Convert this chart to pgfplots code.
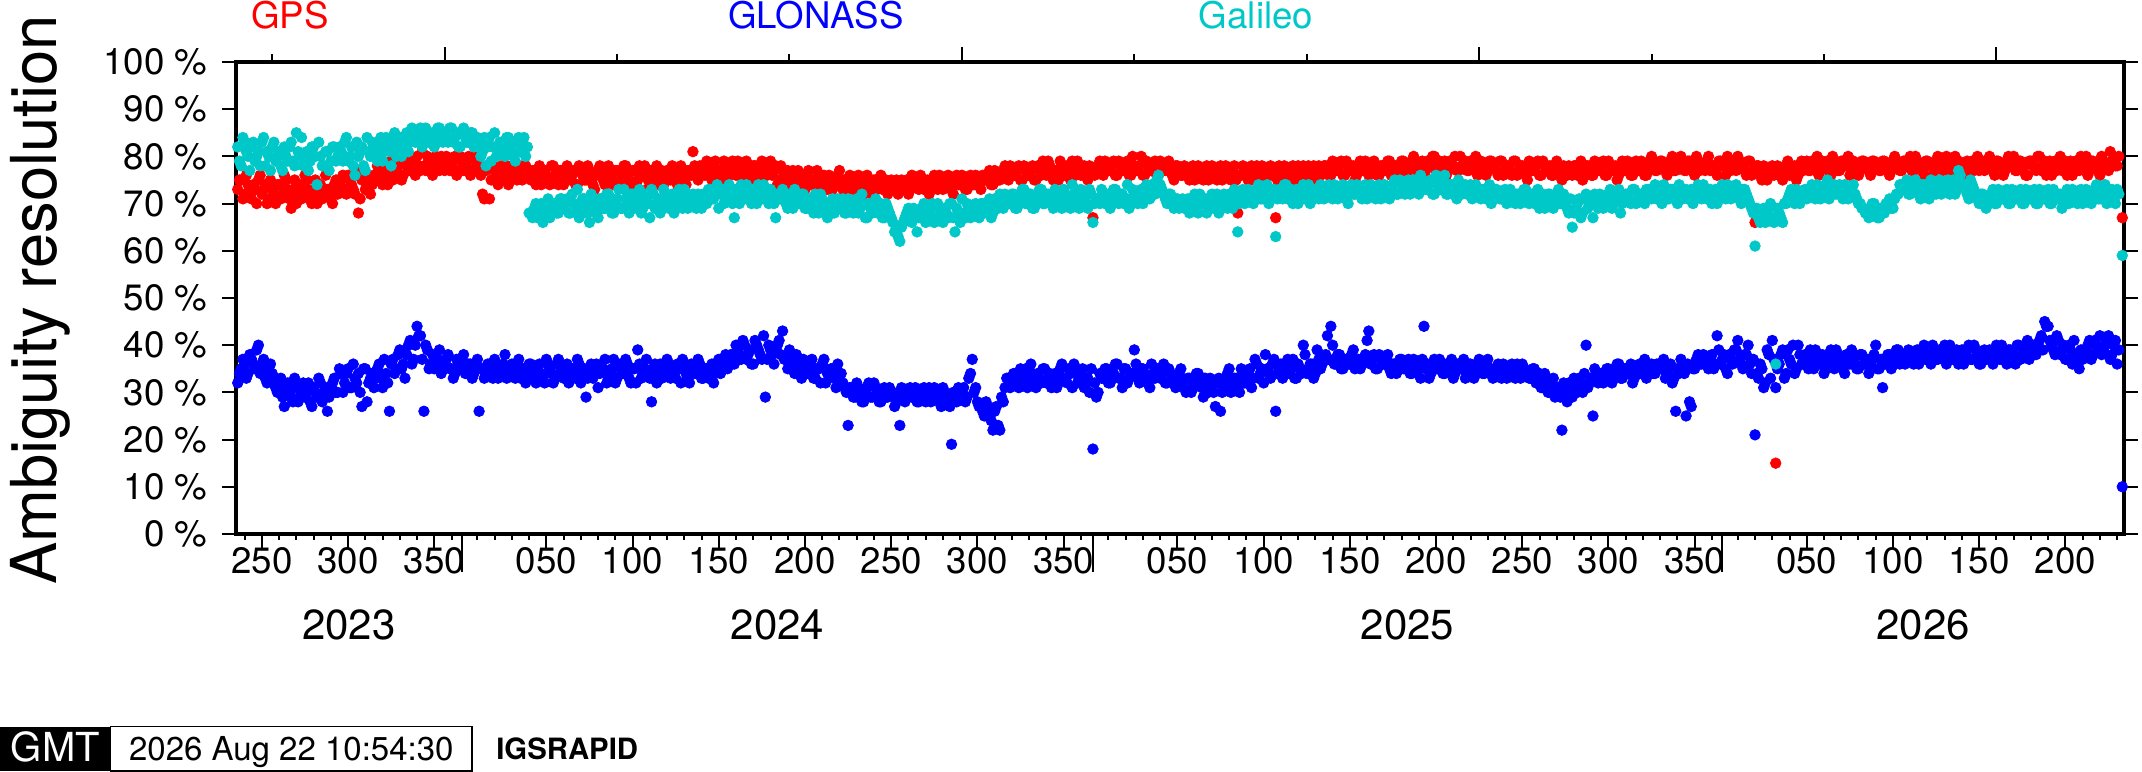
\documentclass[border=0pt]{standalone}
\usepackage{pgfplots}
\usepackage{pgfplotstable}
\pgfplotsset{compat=1.18}
\usepackage{fontspec}
\setmainfont{TeX Gyre Heros}
\definecolor{gpsred}{RGB}{255,0,0}
\definecolor{globlue}{RGB}{0,0,255}
\definecolor{galcyan}{RGB}{0,200,200}
\pgfplotstableread[row sep=\\]{t g r e\\
235 73 32 82\\ 237 75 35 78\\ 239 72 36 83\\ 241 74 34 80\\ 243 71 37 82\\
245 73 35 79\\ 247 75 40 81\\ 249 72 36 83\\ 251 74 33 78\\ 253 71 35 80\\
255 73 34 82\\ 257 70 31 79\\ 259 74 32 81\\ 261 72 29 77\\ 263 75 31 80\\
265 71 30 82\\ 267 73 28 79\\ 269 70 31 85\\ 271 74 29 80\\ 273 72 32 78\\
275 75 30 81\\ 277 71 28 79\\ 279 73 31 82\\ 281 70 29 74\\ 283 74 32 80\\
285 72 30 78\\ 287 73 26 81\\ 289 71 31 79\\ 291 74 33 82\\ 293 72 30 80\\
295 75 34 81\\ 297 73 32 83\\ 299 76 35 79\\ 301 74 31 82\\ 303 72 33 76\\
305 68 34 80\\ 307 75 27 82\\ 309 73 35 77\\ 311 76 32 81\\ 313 74 34 83\\
315 75 33 80\\ 317 77 36 82\\ 319 74 31 79\\ 321 76 34 84\\ 323 78 26 81\\
325 75 37 83\\ 327 77 35 80\\ 329 79 39 84\\ 331 76 36 82\\ 333 78 38 85\\
335 77 41 83\\ 337 79 37 85\\ 339 80 44 84\\ 341 77 42 86\\ 343 78 26 83\\
345 80 39 85\\ 347 77 36 84\\ 349 79 35 82\\ 351 78 37 86\\ 353 80 34 84\\
355 77 36 85\\ 357 79 38 83\\ 359 78 35 86\\ 361 80 34 84\\ 363 77 36 82\\
365 79 37 85\\ 367 78 34 84\\ 369 80 36 83\\ 371 77 33 85\\ 373 79 35 84\\
375 78 26 83\\ 377 72 35 81\\ 379 77 34 78\\ 381 71 36 84\\ 383 78 33 82\\
385 76 35 80\\ 387 77 34 83\\ 389 75 36 81\\ 391 78 33 84\\ 393 76 35 82\\
395 77 34 80\\ 397 75 36 83\\ 399 78 33 81\\ 401 76 35 84\\ 403 77 34 82\\
405 75 36 68\\ 407 77 33 69\\ 409 76 35 67\\ 411 74 34 70\\ 413 77 32 68\\
415 75 36 71\\ 417 78 34 69\\ 419 76 33 70\\ 421 74 37 68\\ 423 77 35 71\\
425 75 34 70\\ 427 77 32 68\\ 429 76 35 72\\ 431 74 33 69\\ 433 78 36 67\\
435 76 34 71\\ 437 75 29 69\\ 439 77 35 66\\ 441 74 33 70\\ 443 76 36 68\\
445 78 34 71\\ 447 75 35 69\\ 449 77 32 72\\ 451 76 34 70\\ 453 74 37 68\\
455 77 33 71\\ 457 75 35 69\\ 459 78 34 73\\ 461 76 36 70\\ 463 74 32 72\\
465 77 35 69\\ 467 75 39 71\\ 469 76 33 68\\ 471 78 35 72\\ 473 75 34 70\\
475 77 28 73\\ 477 76 36 69\\ 479 74 34 71\\ 481 77 33 70\\ 483 75 35 72\\
485 76 36 69\\ 487 78 34 72\\ 489 75 33 70\\ 491 77 35 73\\ 493 76 37 69\\
495 74 34 71\\ 497 77 32 70\\ 499 81 35 72\\ 501 76 34 69\\ 503 78 36 71\\
505 77 33 72\\ 507 79 35 70\\ 509 76 34 73\\ 511 78 32 71\\ 513 75 36 74\\
515 77 34 72\\ 517 79 37 70\\ 519 76 35 73\\ 521 78 38 71\\ 523 77 36 67\\
525 79 39 72\\ 527 76 37 74\\ 529 78 40 71\\ 531 77 38 73\\ 533 75 36 70\\
535 78 41 72\\ 537 76 39 74\\ 539 79 37 71\\ 541 77 29 73\\ 543 78 40 70\\
545 76 38 72\\ 547 78 39 67\\ 549 75 41 71\\ 551 77 43 73\\ 553 76 37 70\\
555 74 39 72\\ 557 77 36 69\\ 559 75 38 71\\ 561 76 35 70\\ 563 74 37 72\\
565 76 34 69\\ 567 74 36 71\\ 569 75 33 68\\ 571 77 35 70\\ 573 74 32 72\\
575 76 37 69\\ 577 73 34 67\\ 579 75 35 70\\ 581 74 33 68\\ 583 76 36 71\\
585 74 34 69\\ 587 75 31 68\\ 589 73 23 71\\ 591 75 30 69\\ 593 74 29 70\\
595 76 31 68\\ 597 73 28 72\\ 599 75 30 67\\ 601 74 32 70\\ 603 72 29 68\\
605 75 31 71\\ 607 74 28 69\\ 609 73 30 67\\ 611 75 29 70\\ 613 74 31 68\\
615 73 30 66\\ 617 75 28 65\\ 619 74 23 62\\ 621 73 30 66\\ 623 75 29 68\\
625 73 31 67\\ 627 75 30 69\\ 629 74 28 64\\ 631 76 29 68\\ 633 73 31 70\\
635 75 30 67\\ 637 74 28 69\\ 639 76 31 66\\ 641 73 29 70\\ 643 75 27 68\\
645 74 30 69\\ 647 76 28 67\\ 649 73 19 70\\ 651 75 29 64\\ 653 74 31 68\\
655 76 30 71\\ 657 73 28 67\\ 659 75 33 69\\ 661 74 37 68\\ 663 76 31 70\\
665 74 27 67\\ 667 76 26 70\\ 669 75 28 69\\ 671 77 25 71\\ 673 74 22 68\\
675 76 27 70\\ 677 75 22 72\\ 679 77 28 69\\ 681 76 33 71\\ 683 78 31 70\\
685 76 34 72\\ 687 77 32 69\\ 689 75 35 71\\ 691 78 33 73\\ 693 76 31 70\\
695 77 36 72\\ 697 75 33 69\\ 699 78 34 71\\ 701 76 32 73\\ 703 77 35 70\\
705 79 33 72\\ 707 76 31 70\\ 709 77 34 73\\ 711 75 32 71\\ 713 78 36 69\\
715 76 33 72\\ 717 77 35 70\\ 719 79 31 74\\ 721 76 34 71\\ 723 78 33 69\\
725 77 35 72\\ 727 76 32 70\\ 729 78 30 73\\ 731 67 18 66\\ 733 77 29 71\\
735 79 34 70\\ 737 76 33 72\\ 739 78 35 71\\ 741 77 32 69\\ 743 79 34 73\\
745 76 36 71\\ 747 78 33 72\\ 749 77 35 70\\ 751 79 32 74\\ 753 76 34 71\\
755 78 39 72\\ 757 77 33 70\\ 759 80 35 73\\ 761 76 34 71\\ 763 78 32 72\\
765 77 36 74\\ 767 79 33 72\\ 769 76 35 76\\ 771 78 34 73\\ 773 77 32 71\\
775 79 35 72\\ 777 76 33 70\\ 779 78 31 71\\ 781 77 34 69\\ 783 76 32 71\\
785 77 30 70\\ 787 75 33 68\\ 789 78 31 71\\ 791 76 34 69\\ 793 77 32 72\\
795 75 29 70\\ 797 78 31 68\\ 799 76 33 71\\ 801 77 30 69\\ 803 75 32 72\\
805 78 26 70\\ 807 76 31 72\\ 809 77 34 69\\ 811 75 30 71\\ 813 78 33 73\\
815 68 31 64\\ 817 76 35 72\\ 819 77 32 70\\ 821 75 34 73\\ 823 78 31 71\\
825 77 37 72\\ 827 76 33 74\\ 829 78 35 71\\ 831 75 38 73\\ 833 77 34 70\\
835 76 36 72\\ 837 67 26 63\\ 839 78 35 73\\ 841 76 33 71\\ 843 77 36 74\\
845 75 34 72\\ 847 78 37 70\\ 849 77 33 73\\ 851 76 35 71\\ 853 78 40 74\\
855 77 34 72\\ 857 75 36 70\\ 859 78 33 73\\ 861 77 39 72\\ 863 76 35 74\\
865 78 37 71\\ 867 77 42 73\\ 869 76 44 72\\ 871 78 36 74\\ 873 77 38 71\\
875 79 35 73\\ 877 76 37 72\\ 879 78 36 70\\ 881 77 38 74\\ 883 75 35 72\\
885 78 37 73\\ 887 77 36 71\\ 889 79 38 74\\ 891 76 43 72\\ 893 78 37 73\\
895 77 35 71\\ 897 76 38 74\\ 899 78 36 72\\ 901 77 37 73\\ 903 79 35 71\\
905 77 36 74\\ 907 78 34 72\\ 909 76 37 75\\ 911 79 35 73\\ 913 77 36 74\\
915 78 34 72\\ 917 80 37 75\\ 919 77 35 73\\ 921 78 33 76\\ 923 76 44 74\\
925 79 36 73\\ 927 78 34 75\\ 929 80 37 72\\ 931 77 35 74\\ 933 78 36 73\\
935 79 34 76\\ 937 77 35 72\\ 939 78 37 74\\ 941 80 34 73\\ 943 77 36 75\\
945 78 35 72\\ 947 79 33 74\\ 949 77 36 73\\ 951 78 34 71\\ 953 80 35 74\\
955 77 37 72\\ 957 78 34 73\\ 959 76 36 71\\ 961 79 35 74\\ 963 78 33 72\\
965 77 35 73\\ 967 79 34 71\\ 969 76 36 72\\ 971 78 33 70\\ 973 77 35 73\\
975 79 34 71\\ 977 76 36 72\\ 979 78 33 70\\ 981 77 35 73\\ 983 75 34 71\\
985 78 33 72\\ 987 77 35 70\\ 989 79 32 73\\ 991 76 31 71\\ 993 78 34 69\\
995 77 30 72\\ 997 76 32 70\\ 999 78 29 71\\ 1001 77 31 73\\ 1003 75 22 70\\
1005 77 30 71\\ 1007 78 32 68\\ 1009 76 29 65\\ 1011 78 31 69\\ 1013 77 33 71\\
1015 75 30 68\\ 1017 78 40 72\\ 1019 77 32 70\\ 1021 76 25 67\\ 1023 78 33 71\\
1025 77 34 72\\ 1027 79 32 69\\ 1029 76 35 71\\ 1031 78 33 73\\ 1033 77 34 70\\
1035 75 36 72\\ 1037 78 33 68\\ 1039 77 35 71\\ 1041 79 34 72\\ 1043 76 36 70\\
1045 78 33 73\\ 1047 77 35 71\\ 1049 79 34 72\\ 1051 76 37 70\\ 1053 78 35 73\\
1055 80 36 71\\ 1057 77 34 74\\ 1059 78 36 72\\ 1061 79 35 70\\ 1063 77 33 73\\
1065 78 35 71\\ 1067 80 32 73\\ 1069 77 26 72\\ 1071 79 34 74\\ 1073 78 36 71\\
1075 77 25 73\\ 1077 79 28 72\\ 1079 78 35 70\\ 1081 80 37 73\\ 1083 77 36 72\\
1085 78 38 74\\ 1087 79 36 71\\ 1089 77 37 73\\ 1091 78 35 72\\ 1093 76 42 70\\
1095 79 36 73\\ 1097 78 38 72\\ 1099 80 34 74\\ 1101 77 37 71\\ 1103 79 39 73\\
1105 80 41 72\\ 1107 78 36 70\\ 1109 77 38 73\\ 1111 79 40 71\\ 1113 76 34 69\\
1115 66 21 61\\ 1117 78 33 67\\ 1119 75 35 68\\ 1121 77 32 66\\ 1123 76 38 69\\
1125 78 41 67\\ 1127 15 31 36\\ 1129 77 36 68\\ 1131 75 39 66\\ 1133 78 34 70\\
1135 76 37 72\\ 1137 77 40 71\\ 1139 75 35 73\\ 1141 78 38 70\\ 1143 77 36 72\\
1145 79 37 71\\ 1147 77 39 73\\ 1149 78 35 72\\ 1151 80 38 74\\ 1153 77 36 71\\
1155 78 34 73\\ 1157 79 37 75\\ 1159 76 39 72\\ 1161 78 35 74\\ 1163 77 38 73\\
1165 79 36 72\\ 1167 78 34 74\\ 1169 80 37 71\\ 1171 77 39 73\\ 1173 78 36 72\\
1175 76 35 70\\ 1177 79 38 69\\ 1179 78 36 68\\ 1181 77 34 67\\ 1183 79 37 70\\
1185 78 40 69\\ 1187 77 35 67\\ 1189 79 31 68\\ 1191 78 36 70\\ 1193 76 38 71\\
1195 79 37 69\\ 1197 78 39 72\\ 1199 77 36 74\\ 1201 79 38 73\\ 1203 78 37 75\\
1205 80 38 72\\ 1207 77 36 74\\ 1209 79 39 73\\ 1211 78 37 71\\ 1213 76 40 74\\
1215 79 38 72\\ 1217 78 36 75\\ 1219 77 39 73\\ 1221 80 37 74\\ 1223 78 38 72\\
1225 79 40 73\\ 1227 77 37 75\\ 1229 78 39 74\\ 1231 80 38 72\\ 1233 79 36 77\\
1235 77 39 74\\ 1237 78 38 73\\ 1239 76 40 71\\ 1241 79 37 74\\ 1243 78 39 72\\
1245 77 36 70\\ 1247 79 38 72\\ 1249 78 37 69\\ 1251 80 39 71\\ 1253 77 36 73\\
1255 79 40 70\\ 1257 78 37 72\\ 1259 76 38 71\\ 1261 79 36 73\\ 1263 78 39 70\\
1265 80 38 72\\ 1267 77 40 71\\ 1269 79 37 73\\ 1271 78 39 70\\ 1273 76 41 72\\
1275 79 38 71\\ 1277 78 40 73\\ 1279 80 39 70\\ 1281 77 42 72\\ 1283 79 45 71\\
1285 78 44 73\\ 1287 76 40 70\\ 1289 79 38 72\\ 1291 78 41 71\\ 1293 77 39 69\\
1295 79 37 72\\ 1297 78 40 70\\ 1299 76 36 73\\ 1301 79 38 71\\ 1303 77 35 72\\
1305 78 37 70\\ 1307 80 39 73\\ 1309 77 41 71\\ 1311 79 38 72\\ 1313 78 40 74\\
1315 76 42 71\\ 1317 79 39 73\\ 1319 78 41 70\\ 1321 81 37 72\\ 1323 79 40 71\\
1325 78 36 73\\ 1328 67 10 59\\
}\dataA
\pgfplotstableread[row sep=\\]{t g r e\\
236 75 34 79\\ 238 71 37 84\\ 240 76 33 81\\ 242 72 38 77\\ 244 74 36 83\\
246 70 39 80\\ 248 76 34 78\\ 250 73 37 84\\ 252 70 32 81\\ 254 75 36 77\\
256 72 33 83\\ 258 74 30 80\\ 260 71 33 78\\ 262 76 27 82\\ 264 73 32 79\\
266 69 29 83\\ 268 75 33 78\\ 270 72 28 81\\ 272 71 31 84\\ 274 76 29 79\\
276 73 32 77\\ 278 70 27 82\\ 280 75 30 80\\ 282 72 33 83\\ 284 71 28 78\\
286 76 31 81\\ 288 73 29 77\\ 290 70 32 82\\ 292 75 30 79\\ 294 73 35 82\\
296 76 30 79\\ 298 72 34 84\\ 300 75 31 80\\ 302 73 36 78\\ 304 77 32 83\\
306 71 30 81\\ 308 76 35 78\\ 310 74 28 84\\ 312 72 33 80\\ 314 76 31 82\\
316 78 35 79\\ 318 75 33 84\\ 320 77 37 81\\ 322 74 32 83\\ 324 79 36 78\\
326 76 34 85\\ 328 78 38 82\\ 330 75 35 80\\ 332 80 33 84\\ 334 77 40 81\\
336 79 36 86\\ 338 76 40 83\\ 340 78 42 85\\ 342 81 37 82\\ 344 77 40 86\\
346 79 35 83\\ 348 76 38 85\\ 350 80 36 84\\ 352 77 39 86\\ 354 79 35 83\\
356 80 37 84\\ 358 77 35 86\\ 360 79 33 83\\ 362 76 37 85\\ 364 80 35 82\\
366 77 38 86\\ 368 79 34 83\\ 370 76 36 85\\ 372 80 34 82\\ 374 78 37 84\\
376 76 35 80\\ 378 71 33 84\\ 380 78 36 82\\ 382 75 34 79\\ 384 77 37 85\\
386 74 33 81\\ 388 78 35 83\\ 390 76 38 80\\ 392 74 34 84\\ 394 78 36 81\\
396 76 33 79\\ 398 77 37 84\\ 400 75 35 82\\ 402 78 32 80\\ 404 76 36 68\\
406 77 35 67\\ 408 74 32 70\\ 410 78 36 68\\ 412 75 33 66\\ 414 76 37 69\\
416 74 35 67\\ 418 78 32 70\\ 420 75 36 68\\ 422 77 34 71\\ 424 74 33 69\\
426 78 36 71\\ 428 75 33 68\\ 430 77 35 70\\ 432 74 37 73\\ 434 77 32 69\\
436 75 35 71\\ 438 78 33 68\\ 440 76 36 72\\ 442 73 34 70\\ 444 77 31 67\\
446 76 35 71\\ 448 74 37 69\\ 450 78 33 72\\ 452 75 35 68\\ 454 77 32 70\\
456 74 36 73\\ 458 76 34 69\\ 460 78 37 71\\ 462 75 33 68\\ 464 77 35 72\\
466 74 32 70\\ 468 78 36 73\\ 470 76 34 69\\ 472 73 37 71\\ 474 77 33 67\\
476 75 35 72\\ 478 78 32 70\\ 480 76 36 68\\ 482 74 34 73\\ 484 77 37 70\\
486 75 33 71\\ 488 77 35 68\\ 490 74 36 72\\ 492 78 32 70\\ 494 75 35 73\\
496 77 33 69\\ 498 76 36 71\\ 500 78 34 70\\ 502 75 37 72\\ 504 77 33 69\\
506 76 35 70\\ 508 78 33 73\\ 510 75 36 71\\ 512 79 34 72\\ 514 77 37 69\\
516 75 35 73\\ 518 78 38 71\\ 520 76 36 74\\ 522 79 37 70\\ 524 76 40 73\\
526 78 38 70\\ 528 75 41 72\\ 530 79 37 74\\ 532 76 39 71\\ 534 78 36 73\\
536 77 40 70\\ 538 75 38 72\\ 540 78 42 74\\ 542 76 37 71\\ 544 79 39 73\\
546 77 36 70\\ 548 74 40 72\\ 550 78 38 71\\ 552 75 37 72\\ 554 77 35 69\\
556 76 38 71\\ 558 74 34 73\\ 560 77 36 70\\ 562 75 33 72\\ 564 73 36 69\\
566 77 34 71\\ 568 75 37 70\\ 570 74 33 72\\ 572 76 35 68\\ 574 73 36 71\\
576 75 32 70\\ 578 76 34 68\\ 580 73 35 71\\ 582 75 31 69\\ 584 77 34 70\\
586 73 32 71\\ 588 74 30 68\\ 590 76 31 70\\ 592 73 29 68\\ 594 75 32 71\\
596 74 30 69\\ 598 72 28 70\\ 600 76 31 67\\ 602 73 29 69\\ 604 75 32 70\\
606 73 30 68\\ 608 76 28 70\\ 610 74 31 67\\ 612 72 29 69\\ 614 75 30 67\\
616 74 27 64\\ 618 72 29 63\\ 620 75 31 65\\ 622 74 28 67\\ 624 72 30 69\\
626 76 29 66\\ 628 74 31 68\\ 630 73 28 67\\ 632 75 30 69\\ 634 74 28 66\\
636 72 31 68\\ 638 75 29 70\\ 640 74 30 67\\ 642 76 28 69\\ 644 73 31 66\\
646 75 29 68\\ 648 74 27 70\\ 650 72 30 67\\ 652 76 28 69\\ 654 74 30 66\\
656 75 31 68\\ 658 73 29 70\\ 660 76 34 67\\ 662 74 30 69\\ 664 75 28 68\\
666 73 27 70\\ 668 75 25 68\\ 670 76 27 70\\ 672 74 24 67\\ 674 77 26 71\\
676 75 23 69\\ 678 76 29 70\\ 680 78 31 72\\ 682 75 33 70\\ 684 77 32 72\\
686 76 34 69\\ 688 78 31 71\\ 690 75 33 73\\ 692 77 35 70\\ 694 76 32 72\\
696 78 34 69\\ 698 75 31 71\\ 700 77 33 73\\ 702 79 35 70\\ 704 76 32 72\\
706 78 34 71\\ 708 75 33 69\\ 710 77 31 72\\ 712 79 35 70\\ 714 76 33 73\\
716 78 32 71\\ 718 75 34 69\\ 720 77 36 72\\ 722 79 32 70\\ 724 76 34 73\\
726 78 31 71\\ 728 75 33 69\\ 730 77 35 72\\ 732 76 32 70\\ 734 78 30 71\\
736 77 33 73\\ 738 79 35 70\\ 740 77 32 72\\ 742 78 34 71\\ 744 76 36 73\\
746 79 33 70\\ 748 77 31 72\\ 750 78 35 71\\ 752 76 33 69\\ 754 80 34 73\\
756 77 36 71\\ 758 78 32 72\\ 760 76 35 70\\ 762 79 33 74\\ 764 77 31 71\\
766 78 34 73\\ 768 76 35 75\\ 770 79 33 74\\ 772 77 36 72\\ 774 78 32 70\\
776 77 34 72\\ 778 75 33 69\\ 780 78 32 71\\ 782 76 35 70\\ 784 78 31 69\\
786 76 33 71\\ 788 77 30 70\\ 790 75 32 72\\ 792 78 34 68\\ 794 76 31 70\\
796 77 33 71\\ 798 75 30 69\\ 800 78 32 72\\ 802 76 27 70\\ 804 77 33 68\\
806 75 30 71\\ 808 78 32 70\\ 810 76 35 72\\ 812 77 31 69\\ 814 75 33 71\\
816 76 30 70\\ 818 78 34 73\\ 820 76 32 71\\ 822 77 35 72\\ 824 75 33 70\\
826 78 36 73\\ 828 76 34 71\\ 830 77 32 72\\ 832 76 35 74\\ 834 78 33 71\\
836 77 37 73\\ 838 75 34 71\\ 840 77 36 72\\ 842 78 34 74\\ 844 76 37 71\\
846 77 35 73\\ 848 75 33 72\\ 850 78 36 70\\ 852 77 34 73\\ 854 76 38 71\\
856 78 35 74\\ 858 77 36 72\\ 860 75 34 73\\ 862 78 37 71\\ 864 77 36 73\\
866 78 38 72\\ 868 76 37 74\\ 870 79 40 71\\ 872 77 36 73\\ 874 78 38 72\\
876 76 35 74\\ 878 79 37 71\\ 880 77 36 73\\ 882 78 39 72\\ 884 76 36 74\\
886 79 35 72\\ 888 77 37 73\\ 890 78 41 71\\ 892 77 36 74\\ 894 79 38 72\\
896 76 35 73\\ 898 78 37 71\\ 900 77 36 74\\ 902 79 38 72\\ 904 76 34 73\\
906 78 36 75\\ 908 77 35 72\\ 910 79 37 74\\ 912 78 35 72\\ 914 77 37 75\\
916 79 34 73\\ 918 78 36 74\\ 920 76 35 72\\ 922 79 37 75\\ 924 77 35 73\\
926 78 33 74\\ 928 80 36 72\\ 930 77 35 76\\ 932 79 37 73\\ 934 78 34 75\\
936 76 36 72\\ 938 79 35 74\\ 940 78 33 73\\ 942 77 36 71\\ 944 80 35 74\\
946 78 37 73\\ 948 77 34 72\\ 950 79 36 74\\ 952 78 33 72\\ 954 76 35 73\\
956 79 36 71\\ 958 78 34 73\\ 960 77 37 72\\ 962 79 35 70\\ 964 78 34 73\\
966 76 36 72\\ 968 79 33 71\\ 970 77 35 73\\ 972 78 34 71\\ 974 76 36 72\\
976 79 33 70\\ 978 77 35 72\\ 980 78 36 71\\ 982 76 34 73\\ 984 79 33 70\\
986 77 35 72\\ 988 78 32 71\\ 990 76 34 69\\ 992 79 31 72\\ 994 77 33 70\\
996 78 30 72\\ 998 76 33 69\\ 1000 79 31 71\\ 1002 77 29 70\\ 1004 78 32 72\\
1006 76 28 69\\ 1008 77 31 71\\ 1010 78 33 68\\ 1012 76 30 70\\ 1014 79 32 67\\
1016 77 34 71\\ 1018 78 31 69\\ 1020 76 33 70\\ 1022 79 35 72\\ 1024 77 32 69\\
1026 78 34 71\\ 1028 76 33 70\\ 1030 79 35 72\\ 1032 77 32 69\\ 1034 78 34 71\\
1036 76 36 73\\ 1038 79 33 70\\ 1040 77 35 72\\ 1042 78 34 71\\ 1044 76 32 73\\
1046 79 35 70\\ 1048 77 36 72\\ 1050 78 34 71\\ 1052 76 33 73\\ 1054 79 35 72\\
1056 78 34 73\\ 1058 77 36 71\\ 1060 79 35 72\\ 1062 78 37 74\\ 1064 76 34 71\\
1066 79 36 73\\ 1068 77 33 72\\ 1070 78 35 70\\ 1072 80 37 73\\ 1074 77 34 72\\
1076 79 36 71\\ 1078 78 27 73\\ 1080 76 35 72\\ 1082 79 38 74\\ 1084 78 36 71\\
1086 77 37 73\\ 1088 80 35 72\\ 1090 78 38 70\\ 1092 77 36 73\\ 1094 79 39 72\\
1096 78 37 74\\ 1098 76 35 71\\ 1100 79 38 73\\ 1102 78 36 72\\ 1104 77 39 74\\
1106 79 37 71\\ 1108 78 35 73\\ 1110 76 38 72\\ 1112 79 36 70\\ 1114 77 37 68\\
1116 78 34 69\\ 1118 76 36 66\\ 1120 78 31 69\\ 1122 75 39 67\\ 1124 77 33 70\\
1126 76 37 66\\ 1128 78 35 69\\ 1130 76 38 67\\ 1132 77 33 70\\ 1134 79 39 71\\
1136 77 36 73\\ 1138 78 34 70\\ 1140 76 40 72\\ 1142 79 36 71\\ 1144 78 38 73\\
1146 77 35 72\\ 1148 79 37 74\\ 1150 78 39 71\\ 1152 76 36 73\\ 1154 79 38 72\\
1156 78 35 74\\ 1158 77 37 71\\ 1160 80 36 73\\ 1162 78 39 72\\ 1164 77 37 74\\
1166 79 35 71\\ 1168 78 38 73\\ 1170 76 36 72\\ 1172 79 37 74\\ 1174 78 35 71\\
1176 77 38 70\\ 1178 79 36 69\\ 1180 78 37 68\\ 1182 76 36 68\\ 1184 79 38 70\\
1186 78 35 67\\ 1188 77 37 69\\ 1190 79 36 68\\ 1192 78 38 70\\ 1194 77 35 69\\
1196 80 37 71\\ 1198 78 39 72\\ 1200 77 37 73\\ 1202 79 36 74\\ 1204 78 39 72\\
1206 77 37 73\\ 1208 80 38 75\\ 1210 78 36 72\\ 1212 77 39 74\\ 1214 79 37 73\\
1216 78 38 71\\ 1218 76 40 74\\ 1220 79 37 72\\ 1222 78 39 75\\ 1224 77 38 73\\
1226 80 36 74\\ 1228 78 40 72\\ 1230 77 37 75\\ 1232 79 39 73\\ 1234 78 38 76\\
1236 76 36 74\\ 1238 79 39 72\\ 1240 78 37 75\\ 1242 77 40 73\\ 1244 80 38 71\\
1246 78 36 72\\ 1248 77 39 70\\ 1250 79 38 71\\ 1252 78 37 72\\ 1254 76 39 70\\
1256 79 38 73\\ 1258 78 40 71\\ 1260 77 37 72\\ 1262 80 39 70\\ 1264 78 38 73\\
1266 77 36 71\\ 1268 79 40 72\\ 1270 78 38 70\\ 1272 76 39 73\\ 1274 79 37 71\\
1276 78 40 72\\ 1278 77 38 70\\ 1280 80 41 73\\ 1282 78 39 71\\ 1284 76 44 72\\
1286 79 41 70\\ 1288 78 39 73\\ 1290 77 42 71\\ 1292 80 38 72\\ 1294 78 40 70\\
1296 76 37 73\\ 1298 79 39 71\\ 1300 78 41 72\\ 1302 77 37 70\\ 1304 80 39 73\\
1306 78 38 71\\ 1308 76 40 72\\ 1310 79 37 70\\ 1312 78 41 73\\ 1314 77 39 71\\
1316 80 38 72\\ 1318 78 40 74\\ 1320 77 42 71\\ 1322 79 38 73\\ 1324 78 41 70\\
1326 80 39 72\\
}\dataB
\begin{document}
\begin{tikzpicture}
\useasboundingbox (0,0) rectangle (642.6pt,231.6pt);
\begin{axis}[
  at={(70.8pt,71.4pt)}, anchor=south west,
  scale only axis, width=566.4pt, height=141.6pt,
  xmin=234, xmax=1329, ymin=0, ymax=100,
  axis line style={line width=1.2pt},
  every tick/.style={black, line width=0.6pt},
  tick align=outside,
  major tick length=4.2pt, minor tick length=1.7pt,
  xtick pos=left, ytick pos=both, yticklabel pos=left,
  xtick={249,299,349,414,464,514,564,614,664,714,780,830,880,930,980,1030,1080,1145,1195,1245,1295},
  xticklabels={250,300,350,050,100,150,200,250,300,350,050,100,150,200,250,300,350,050,100,150,200},
  minor xtick={239,249,...,359,374,384,...,724,740,750,...,1090,1105,1115,...,1325},
  extra x ticks={365,731,1096},
  extra x tick labels={},
  extra x tick style={major tick length=11.4pt, xtick pos=left},
  ytick={0,10,...,100},
  yticklabels={0 \%,10 \%,20 \%,30 \%,40 \%,50 \%,60 \%,70 \%,80 \%,90 \%,100 \%},
  ticklabel style={font=\fontsize{11}{13}\selectfont},
  xticklabel style={anchor=north, inner sep=0pt, yshift=0.2pt},
  yticklabel style={anchor=east, inner sep=0pt, xshift=-4.2pt},
  clip mode=individual,
]
\addplot[only marks, mark=*, color=gpsred, mark size=1.6pt, line width=0.2pt] table[x=t, y=g] {\dataA};
\addplot[only marks, mark=*, color=gpsred, mark size=1.6pt, line width=0.2pt] table[x=t, y=g] {\dataB};
\addplot[only marks, mark=*, color=globlue, mark size=1.6pt, line width=0.2pt] table[x=t, y=r] {\dataA};
\addplot[only marks, mark=*, color=globlue, mark size=1.6pt, line width=0.2pt] table[x=t, y=r] {\dataB};
\addplot[only marks, mark=*, color=galcyan, mark size=1.6pt, line width=0.2pt] table[x=t, y=e] {\dataA};
\addplot[only marks, mark=*, color=galcyan, mark size=1.6pt, line width=0.2pt] table[x=t, y=e] {\dataB};
\node[anchor=base, font=\fontsize{12.6}{14}\selectfont, yshift=-31.6pt] at (axis cs:299.5,0) {2023};
\node[anchor=base, font=\fontsize{12.6}{14}\selectfont, yshift=-31.6pt] at (axis cs:548,0) {2024};
\node[anchor=base, font=\fontsize{12.6}{14}\selectfont, yshift=-31.6pt] at (axis cs:913.5,0) {2025};
\node[anchor=base, font=\fontsize{12.6}{14}\selectfont, yshift=-31.6pt] at (axis cs:1212.5,0) {2026};
\end{axis}
\begin{axis}[
  at={(70.8pt,71.4pt)}, anchor=south west,
  scale only axis, width=566.4pt, height=141.6pt,
  xmin=234, xmax=1329, ymin=0, ymax=100,
  axis x line*=top, hide y axis,
  axis line style={line width=1.2pt, -},
  every tick/.style={black, line width=0.6pt},
  tick align=outside, major tick length=2.4pt,
  xtick={255,455,555,755,855,1055,1155}, xticklabels={},
  extra x ticks={355,655,955,1255}, extra x tick labels={},
  extra x tick style={major tick length=4.5pt},
]
\addplot[draw=none] coordinates {(300,50)};
\end{axis}
\node[rotate=90, font=\fontsize{19}{22}\selectfont] at (12pt,141.6pt) {Ambiguity resolution};
\node[anchor=base, text=gpsred, font=\fontsize{11}{13}\selectfont] at (87pt,223.1pt) {GPS};
\node[anchor=base, text=globlue, font=\fontsize{11}{13}\selectfont] at (244.8pt,223.1pt) {GLONASS};
\node[anchor=base, text=galcyan, font=\fontsize{11}{13}\selectfont] at (376.8pt,223.1pt) {Galileo};
\fill[black] (0,0.3pt) rectangle (33.2pt,13.6pt);
\node[anchor=base, text=white, font=\fontsize{12}{13}\selectfont] at (16.6pt,3.2pt) {GMT};
\draw[line width=0.45pt] (33.2pt,0.3pt) rectangle (141.6pt,13.6pt);
\node[anchor=base, font=\fontsize{9.9}{11}\selectfont] at (87.4pt,3.5pt) {2026 Aug 22 10:54:30};
\node[anchor=base west, inner sep=0pt, font=\bfseries\fontsize{8.8}{10}\selectfont] at (148.7pt,3.6pt) {IGSRAPID};
\end{tikzpicture}
\end{document}
